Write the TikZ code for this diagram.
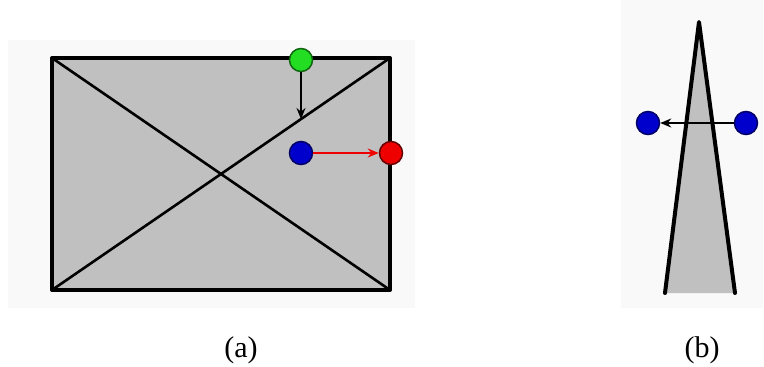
\documentclass[tikz,border=0pt]{standalone}
\usepackage{fontspec}
\setmainfont{Liberation Serif}
\usetikzlibrary{arrows.meta,calc}
\definecolor{panelbg}{HTML}{F9F9F9}
\definecolor{fillgray}{HTML}{C0C0C0}
\definecolor{dotgreen}{HTML}{22DD22}
\definecolor{dotgreenline}{HTML}{116611}
\definecolor{dotblue}{HTML}{0000CC}
\definecolor{dotblueline}{HTML}{000066}
\definecolor{dotred}{HTML}{EE0000}
\definecolor{dotredline}{HTML}{660000}
\tikzset{
  dot/.style={circle,inner sep=0pt,minimum size=23pt,line width=1.5pt},
  edgeline/.style={line width=4pt,line cap=round,line join=round},
  diagline/.style={line width=2.6pt},
  vec/.style={line width=1.6pt,-{Stealth[length=11pt,width=9pt]}},
  caption/.style={font=\fontsize{30}{30}\selectfont,anchor=base,inner sep=0pt}
}
\begin{document}
\begin{tikzpicture}[x=1pt,y=-1pt]
\useasboundingbox (0,0) rectangle (764,367);
\fill[white] (0,0) rectangle (764,367);
% faint panel backgrounds
\fill[panelbg] (8,40) rectangle (415,308);
\fill[panelbg] (621,0) rectangle (763,308);
% panel (a)
\coordinate (tl) at (52,58);
\coordinate (tr) at (390,58);
\coordinate (br) at (390,290);
\coordinate (bl) at (52,290);
\fill[fillgray] (tl) rectangle (br);
\draw[diagline] (tl) -- (br);
\draw[diagline] (bl) -- (tr);
\draw[edgeline] (tl) -- (tr) -- (br) -- (bl) -- cycle;
\coordinate (hit) at (301,119);
\node[dot,fill=dotgreen,draw=dotgreenline] (g) at (301,60) {};
\node[dot,fill=dotblue,draw=dotblueline] (b1) at (301,153) {};
\node[dot,fill=dotred,draw=dotredline] (r) at (391,153) {};
\draw[vec] (g) -- (hit);
\draw[vec,draw=dotred,-{Stealth[length=11pt,width=9pt,fill=dotred]}] (b1) -- (r);
% panel (b)
\coordinate (apex) at (699,22);
\coordinate (bl2) at (665,293);
\coordinate (br2) at (735,293);
\fill[fillgray] (apex) -- (br2) -- (bl2) -- cycle;
\draw[edgeline] (bl2) -- (apex) -- (br2);
\node[dot,fill=dotblue,draw=dotblueline] (lb) at (648,123) {};
\node[dot,fill=dotblue,draw=dotblueline] (rb) at (746,123) {};
\draw[vec] (rb) -- (lb);
% captions
\node[caption] (ca) at (241,357) {(a)};
\node[caption] (cb) at (702,357) {(b)};
\end{tikzpicture}
\end{document}
